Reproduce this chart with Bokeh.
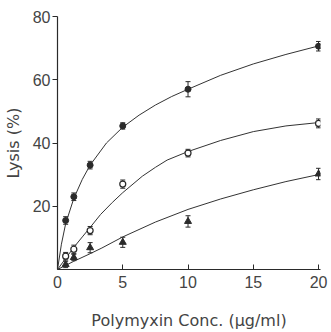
from bokeh.plotting import figure
from bokeh.models import ColumnDataSource, Whisker, TeeHead, FixedTicker, Range1d
from bokeh.embed import file_html
from bokeh.resources import INLINE

# Data
conc = [0.625, 1.25, 2.5, 5, 10, 20]
lysis_filled = [15.5, 23.0, 33.0, 45.4, 57.0, 70.6]
err_filled = [1.2, 1.2, 1.2, 1.0, 2.4, 1.5]
lysis_open = [4.2, 6.4, 12.3, 27.0, 36.8, 46.2]
err_open = [1.2, 1.3, 1.3, 1.3, 1.2, 1.4]
lysis_tri = [1.6, 3.8, 6.9, 8.6, 15.2, 30.2]
err_tri = [1.0, 1.0, 1.6, 1.6, 1.8, 1.8]

# Fitted curves
top_x = [0, 0.3, 0.625, 1.25, 1.9, 2.5, 3.75, 5, 6.25, 7.5, 8.75, 10, 12.5, 15, 17.5, 20.1]
top_y = [0, 8, 14.5, 22.5, 28.5, 33, 40, 45, 48.8, 52, 54.7, 57, 61.4, 65, 68, 70.8]
mid_x = [0, 0.625, 1.25, 1.9, 2.5, 3.3, 4.2, 5, 6.5, 7.5, 8.4, 10, 12.5, 15, 17.5, 20.1]
mid_y = [0, 3.5, 7, 10.3, 13.3, 17.4, 21.2, 24.3, 29.5, 32.3, 34.6, 37.3, 40.8, 43.6, 45.4, 46.5]
bot_x = [0, 1.25, 2.5, 3.4, 5, 7.5, 10, 12.5, 15, 17.5, 20.1]
bot_y = [0, 2.6, 5.0, 6.8, 10.3, 15, 19, 22.3, 25.2, 27.8, 30.1]

x_ticks = [0, 5, 10, 15, 20]
y_ticks = [20, 40, 60, 80]
x_label = "Polymyxin Conc. (\u03bcg/ml)"
y_label = "Lysis (%)"

INK = "#2a2a2a"
TXT = "#444444"

p = figure(width=331, height=332, x_range=Range1d(0, 20.15), y_range=Range1d(0, 80),
           output_backend="svg", toolbar_location=None,
           min_border_left=57, min_border_right=11, min_border_top=16, min_border_bottom=62)
p.outline_line_color = None
p.grid.visible = False
p.background_fill_color = "white"

p.xaxis.ticker = FixedTicker(ticks=x_ticks)
p.yaxis.ticker = FixedTicker(ticks=y_ticks)
for ax in (p.xaxis[0], p.yaxis[0]):
    ax.axis_line_color = INK
    ax.axis_line_width = 1.2
    ax.major_tick_line_color = INK
    ax.minor_tick_line_color = None
    ax.major_label_text_font = "Liberation Sans"
    ax.major_label_text_font_size = "16px"
    ax.major_label_text_color = TXT
    ax.axis_label_text_font = "DejaVu Sans"
    ax.axis_label_text_font_style = "normal"
    ax.axis_label_text_color = TXT
p.xaxis.major_tick_in = 5
p.xaxis.major_tick_out = 0
p.xaxis.major_label_standoff = 6
p.xaxis.axis_label = x_label
p.xaxis.axis_label_text_font_size = "16px"
p.xaxis.axis_label_standoff = 20
p.yaxis.major_tick_in = 0
p.yaxis.major_tick_out = 5
p.yaxis.major_label_standoff = 2
p.yaxis.axis_label = y_label
p.yaxis.axis_label_text_font_size = "16px"
p.yaxis.axis_label_standoff = 7

# curves
for cx, cy in ((top_x, top_y), (mid_x, mid_y), (bot_x, bot_y)):
    p.line(cx, cy, line_color="#333333", line_width=1)

# error bars
for vals, errs in ((lysis_filled, err_filled), (lysis_open, err_open), (lysis_tri, err_tri)):
    src = ColumnDataSource(dict(x=conc,
                                upper=[v + e for v, e in zip(vals, errs)],
                                lower=[v - e for v, e in zip(vals, errs)]))
    p.add_layout(Whisker(base="x", upper="upper", lower="lower", source=src,
                         line_color=INK, line_width=1,
                         upper_head=TeeHead(size=5, line_color=INK, line_width=1),
                         lower_head=TeeHead(size=5, line_color=INK, line_width=1)))

# markers
p.scatter(conc, lysis_filled, marker="circle", size=6, fill_color=INK, line_color=INK)
p.scatter(conc, lysis_open, marker="circle", size=6, fill_color="white", line_color=INK, line_width=1.2)
p.scatter(conc, lysis_tri, marker="triangle", size=7, fill_color=INK, line_color=INK)

open("out.html", "w").write(file_html(p, INLINE))
